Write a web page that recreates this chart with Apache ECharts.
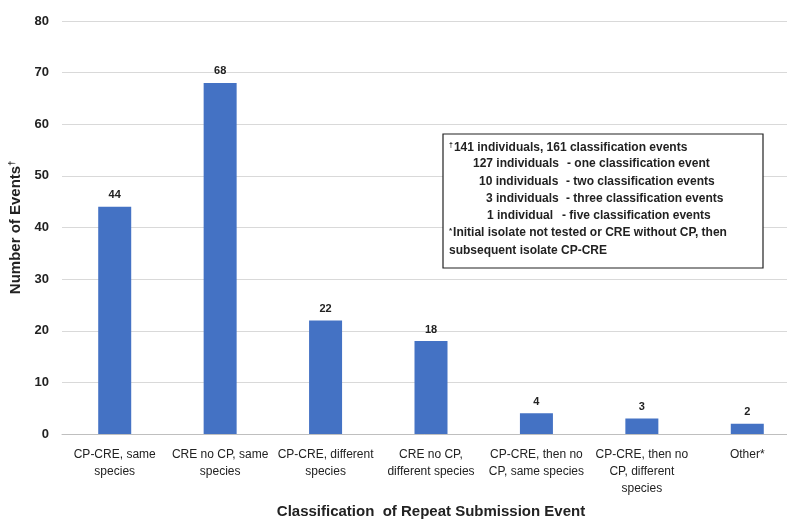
<!DOCTYPE html>
<html>
<head>
<meta charset="utf-8">
<script src="https://cdn.jsdelivr.net/npm/echarts@6/dist/echarts.min.js"></script>
<style>
  html, body { margin: 0; padding: 0; background: #fff; }
  #chart { width: 787px; height: 520px; }
</style>
</head>
<body>
<div id="chart"></div>
<script>
// 分类与数据
const categories = [
    'CP-CRE, same\nspecies',
    'CRE no CP, same\nspecies',
    'CP-CRE, different\nspecies',
    'CRE no CP,\ndifferent species',
    'CP-CRE, then no\nCP, same species',
    'CP-CRE, then no\nCP, different\nspecies',
    'Other*'
];
const eventCounts = [44, 68, 22, 18, 4, 3, 2];
// 注释框文字: [左侧文字, 右侧文字]
const noteRows = [
    ['127 individuals', '- one classification event'],
    ['10 individuals', '- two classification events'],
    ['3 individuals', '- three classification events'],
    ['1 individual', '- five classification events']
];
// 每行的缩进位置 (相对注释框)
const noteLeftX = [30, 36, 43, 44];
const noteRightX = [124, 123, 123, 119];

const font = '"Liberation Sans", Arial, sans-serif';
const ink = '#222';
const chart = echarts.init(document.getElementById('chart'));

// 注释框
const noteChildren = [
    {
        type: 'rect', z: 100,
        shape: { x: 0, y: 0, width: 320, height: 134 },
        style: { fill: '#fff', stroke: ink, lineWidth: 1.2 }
    },
    {
        type: 'text', x: 6, y: 14, z: 101,
        style: {
            text: '{s|\u2020}141 individuals, 161 classification events',
            font: 'bold 12px ' + font, fill: ink, verticalAlign: 'middle',
            rich: { s: { fontSize: 7, fontWeight: 'bold', verticalAlign: 'top', padding: [0, 1, 6, 0] } }
        }
    }
];
noteRows.forEach((row, i) => {
    const y = 30 + i * 17.3;
    noteChildren.push({
        type: 'text', x: noteLeftX[i], y: y, z: 101,
        style: { text: row[0], font: 'bold 12px ' + font, fill: ink, verticalAlign: 'middle' }
    });
    noteChildren.push({
        type: 'text', x: noteRightX[i], y: y, z: 101,
        style: { text: row[1], font: 'bold 12px ' + font, fill: ink, verticalAlign: 'middle' }
    });
});
noteChildren.push({
    type: 'text', x: 6, y: 99, z: 101,
    style: {
        text: '{s|*}Initial isolate not tested or CRE without CP, then',
        font: 'bold 12px ' + font, fill: ink, verticalAlign: 'middle',
        rich: { s: { fontSize: 8, fontWeight: 'bold', padding: [0, 1, 5, 0] } }
    }
});
noteChildren.push({
    type: 'text', x: 6, y: 117, z: 101,
    style: { text: 'subsequent isolate CP-CRE', font: 'bold 12px ' + font, fill: ink, verticalAlign: 'middle' }
});

chart.setOption({
    animation: false,
    textStyle: { fontFamily: font },
    grid: { left: 62, right: -13, top: 21, bottom: 86, outerBoundsMode: 'none' },
    xAxis: {
        type: 'category',
        data: categories,
        name: 'Classification  of Repeat Submission Event',
        nameLocation: 'middle',
        nameGap: 70,
        nameTextStyle: { fontSize: 15, fontWeight: 'bold', color: ink, fontFamily: font },
        axisLine: { lineStyle: { color: '#bfbfbf', width: 1 } },
        axisTick: { show: false },
        axisLabel: { interval: 0, fontSize: 12, color: ink, lineHeight: 17, margin: 12, fontFamily: font }
    },
    yAxis: {
        type: 'value',
        min: 0,
        max: 80,
        interval: 10,
        name: '{n|Number of Events}{s|\u2020}',
        nameLocation: 'middle',
        nameGap: 36,
        nameTextStyle: {
            fontSize: 15, fontWeight: 'bold', color: ink, fontFamily: font,
            rich: {
                n: { fontSize: 15, fontWeight: 'bold', color: ink, fontFamily: font },
                s: { fontSize: 9, fontWeight: 'bold', color: ink, fontFamily: font, padding: [0, 0, 8, 0] }
            }
        },
        axisLine: { show: false },
        axisTick: { show: false },
        splitLine: { lineStyle: { color: '#d9d9d9', width: 1 } },
        axisLabel: { fontSize: 13, fontWeight: 'bold', color: ink, margin: 13, fontFamily: font }
    },
    series: [{
        type: 'bar',
        data: eventCounts,
        barWidth: 33,
        itemStyle: { color: '#4472c4' },
        label: {
            show: true,
            position: 'top',
            distance: 6,
            fontSize: 11,
            fontWeight: 'bold',
            color: ink,
            fontFamily: font
        }
    }],
    graphic: {
        elements: [{
            type: 'group',
            x: 443,
            y: 134,
            z: 100,
            children: noteChildren
        }]
    }
});
</script>
</body>
</html>
